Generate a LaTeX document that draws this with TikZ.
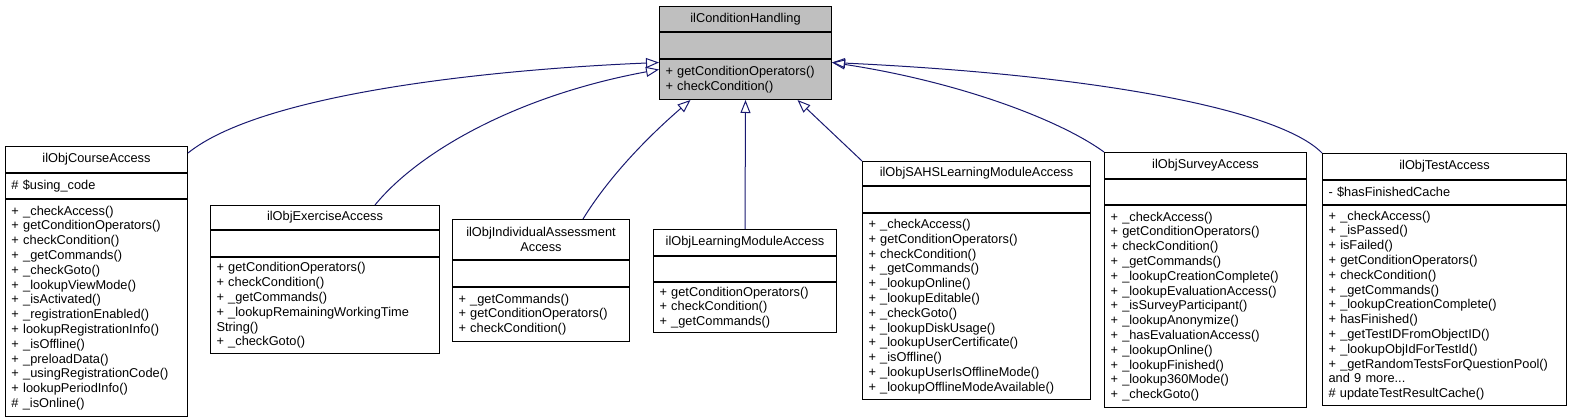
\documentclass[tikz,border=0pt]{standalone}
\usepackage{fontspec}
\setmainfont{Liberation Sans}
\usetikzlibrary{arrows.meta, positioning}
\definecolor{edgeblue}{HTML}{191970}
\definecolor{basegray}{HTML}{BFBFBF}
\tikzset{
	part/.style={draw=black, line width=1pt, anchor=north west,
		inner xsep=6pt, inner ysep=0pt, align=left,
		font=\fontsize{12.8}{14.8}\selectfont,
		execute at begin node={\hyphenpenalty=10000}},
	head/.style={part, align=center},
	inherit/.style={draw=edgeblue, line width=1pt,
		-{Triangle[open, length=13pt, width=10pt]}},
}

\begin{document}
\begin{tikzpicture}[x=1pt, y=-1pt]

\useasboundingbox (0,0) rectangle (1574,419);

% base class
\node [head, fill=basegray, text width=160pt, minimum height=25pt] at (659,6) (base) {ilConditionHandling};
\node [part, fill=basegray, text width=160pt, minimum height=26pt] at (base.south west) (base attr) {};
\node [part, fill=basegray, text width=160pt, minimum height=40pt] at (base attr.south west) (base ops)
	{+ getConditionOperators()\\+ checkCondition()};

% derived classes
\node [head, text width=170pt, minimum height=26pt] at (5,146) (course) {ilObjCourseAccess};
\node [part, text width=170pt, minimum height=25pt] at (course.south west) (course attr) {\# \$using\_code};
\node [part, text width=170pt, minimum height=217pt] at (course attr.south west) (course ops)
	{+ \_checkAccess()\\+ getConditionOperators()\\+ checkCondition()\\+ \_getCommands()\\
	 + \_checkGoto()\\+ \_lookupViewMode()\\+ \_isActivated()\\+ \_registrationEnabled()\\
	 + lookupRegistrationInfo()\\+ \_isOffline()\\+ \_preloadData()\\+ \_usingRegistrationCode()\\
	 + lookupPeriodInfo()\\\# \_isOnline()};

\node [head, text width=217pt, minimum height=24pt] at (210,205) (exercise) {ilObjExerciseAccess};
\node [part, text width=217pt, minimum height=26pt] at (exercise.south west) (exercise attr) {};
\node [part, text width=217pt, minimum height=96pt] at (exercise attr.south west) (exercise ops)
	{+ getConditionOperators()\\+ checkCondition()\\+ \_getCommands()\\
	 + \_lookupRemainingWorkingTime\\String()\\+ \_checkGoto()};

\node [head, text width=165pt, minimum height=40pt] at (452,219) (indiv) {ilObjIndividualAssessment\\Access};
\node [part, text width=165pt, minimum height=26pt] at (indiv.south west) (indiv attr) {};
\node [part, text width=165pt, minimum height=54pt] at (indiv attr.south west) (indiv ops)
	{+ \_getCommands()\\+ getConditionOperators()\\+ checkCondition()};

\node [head, text width=171pt, minimum height=26pt] at (653,229) (lm) {ilObjLearningModuleAccess};
\node [part, text width=171pt, minimum height=25pt] at (lm.south west) (lm attr) {};
\node [part, text width=171pt, minimum height=50pt] at (lm attr.south west) (lm ops)
	{+ getConditionOperators()\\+ checkCondition()\\+ \_getCommands()};

\node [head, text width=216pt, minimum height=24pt] at (862,161) (sahs) {ilObjSAHSLearningModuleAccess};
\node [part, text width=216pt, minimum height=26pt] at (sahs.south west) (sahs attr) {};
\node [part, text width=216pt, minimum height=186pt] at (sahs attr.south west) (sahs ops)
	{+ \_checkAccess()\\+ getConditionOperators()\\+ checkCondition()\\+ \_getCommands()\\
	 + \_lookupOnline()\\+ \_lookupEditable()\\+ \_checkGoto()\\+ \_lookupDiskUsage()\\
	 + \_lookupUserCertificate()\\+ \_isOffline()\\+ \_lookupUserIsOfflineMode()\\
	 + \_lookupOfflineModeAvailable()};

\node [head, text width=190pt, minimum height=26pt] at (1104,152) (survey) {ilObjSurveyAccess};
\node [part, text width=190pt, minimum height=25pt] at (survey.south west) (survey attr) {};
\node [part, text width=190pt, minimum height=202pt] at (survey attr.south west) (survey ops)
	{+ \_checkAccess()\\+ getConditionOperators()\\+ checkCondition()\\+ \_getCommands()\\
	 + \_lookupCreationComplete()\\+ \_lookupEvaluationAccess()\\+ \_isSurveyParticipant()\\
	 + \_lookupAnonymize()\\+ \_hasEvaluationAccess()\\+ \_lookupOnline()\\
	 + \_lookupFinished()\\+ \_lookup360Mode()\\+ \_checkGoto()};

\node [head, text width=232pt, minimum height=26pt] at (1322,153) (test) {ilObjTestAccess};
\node [part, text width=232pt, minimum height=24pt] at (test.south west) (test attr) {- \$hasFinishedCache};
\node [part, text width=232pt, minimum height=200pt] at (test attr.south west) (test ops)
	{+ \_checkAccess()\\+ \_isPassed()\\+ isFailed()\\+ getConditionOperators()\\
	 + checkCondition()\\+ \_getCommands()\\+ \_lookupCreationComplete()\\+ hasFinished()\\
	 + \_getTestIDFromObjectID()\\+ \_lookupObjIdForTestId()\\
	 + \_getRandomTestsForQuestionPool()\\and 9 more...\\\# updateTestResultCache()};

% inheritance
\draw [inherit] ([yshift=-7pt]course.north east) .. controls (260,95) and (480,70) .. ([yshift=17pt]base ops.west);
\draw [inherit] ([xshift=50pt]exercise.north) .. controls (420,150) and (520,95) .. ([yshift=10pt]base ops.west);
\draw [inherit] ([xshift=42pt]indiv.north) .. controls (610,175) and (650,135) .. ([xshift=-55pt]base ops.south);
\draw [inherit] (lm.north) -- (base ops.south);
\draw [inherit] (sahs.north west) -- ([xshift=52pt]base ops.south);
\draw [inherit] (survey.north west) .. controls (1060,120) and (960,82) .. ([yshift=17pt]base ops.east);
\draw [inherit] (test.north west) .. controls (1280,110) and (1100,75) .. ([yshift=17pt]base ops.east);

\end{tikzpicture}
\end{document}
